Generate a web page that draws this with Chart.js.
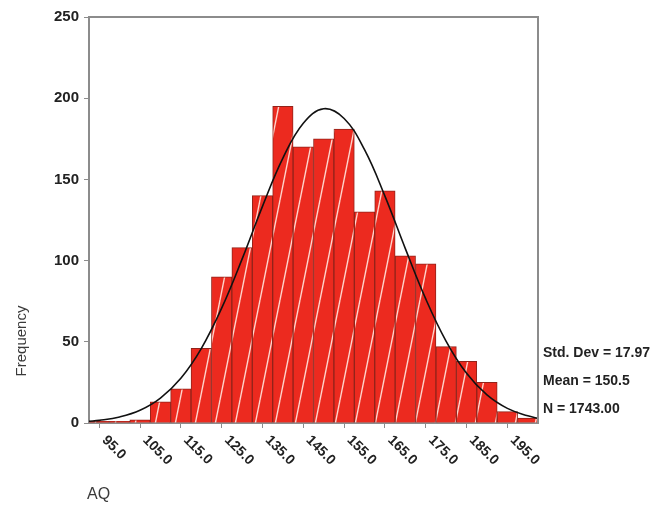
<!DOCTYPE html>
<html><head><meta charset="utf-8">
<script src="https://cdn.jsdelivr.net/npm/chart.js@4.4.1/dist/chart.umd.min.js"></script>
<style>html,body{margin:0;padding:0;background:#fff;}</style>
</head><body>
<canvas id="c" width="670" height="526"></canvas>
<script>
// Histogram bins (bin centres, width 5) and frequencies
const binCenters = [95,100,105,110,115,120,125,130,135,140,145,150,155,160,165,170,175,180,185,190,195,200];
const frequencies = [1,1,2,13,21,46,90,108,140,195,170,175,181,130,143,103,98,47,38,25,7,3];
// Fitted normal curve
const curveX = [92.5,95,100,105,110,115,120,125,130,135,140,145,150,155,160,165,170,175,180,185,190,195,200,202.5];
const curveY = [1.1,1.6,3.7,7.8,15.3,27.5,45.8,70.7,100.9,133.4,163.1,184.6,193.5,187.5,168.3,139.7,107.4,76.4,50.3,30.6,17.3,9.0,4.4,2.9];
// Axis ticks
const xTickValues = [95,105,115,125,135,145,155,165,175,185,195];
const xTickLabels = ["95.0","105.0","115.0","125.0","135.0","145.0","155.0","165.0","175.0","185.0","195.0"];
const yTickValues = [0,50,100,150,200,250];
const statsLines = ["Std. Dev = 17.97","Mean = 150.5","N = 1743.00"];
const xTitle = "AQ";
const yTitle = "Frequency";

const FONT = '"Liberation Sans", Arial, sans-serif';
const canvas = document.getElementById('c');
const ctx = canvas.getContext('2d');

// hatch pattern: red fill with thin pale steep diagonal lines
const pc = document.createElement('canvas'); pc.width = 20; pc.height = 100;
const p = pc.getContext('2d');
p.fillStyle = '#ec2a1f'; p.fillRect(0,0,20,100);
p.strokeStyle = 'rgba(255,222,214,0.95)'; p.lineWidth = 1.4;
for (const off of [-20,0,20]) { p.beginPath(); p.moveTo(off,100); p.lineTo(off+20,0); p.stroke(); }
const pattern = ctx.createPattern(pc,'repeat');

const decor = {
  id: 'decor',
  afterDraw(chart) {
    const c = chart.ctx, a = chart.chartArea, x = chart.scales.x;
    c.save();
    c.strokeStyle = '#8c8c8c'; c.lineWidth = 2;
    c.beginPath(); c.moveTo(a.left, a.top); c.lineTo(a.right, a.top); c.lineTo(a.right, a.bottom); c.stroke();
    c.fillStyle = '#222';
    c.font = 'bold 14px ' + FONT;
    xTickValues.forEach((v,i) => {
      const px = x.getPixelForValue(v);
      c.save(); c.translate(px + 5, a.bottom + 15); c.rotate(Math.PI/4);
      c.textAlign = 'left'; c.textBaseline = 'middle';
      c.fillText(xTickLabels[i], 0, 0);
      c.restore();
    });
    // y title
    c.fillStyle = '#3a3a3a';
    c.font = '15px ' + FONT;
    c.save(); c.translate(22, 341); c.rotate(-Math.PI/2);
    c.textAlign = 'center'; c.textBaseline = 'middle'; c.fillText(yTitle, 0, 0); c.restore();
    // x title
    c.font = '16px ' + FONT; c.textAlign = 'left'; c.textBaseline = 'middle';
    c.fillText(xTitle, 87, 495);
    // stats
    c.fillStyle = '#222';
    c.font = 'bold 14px ' + FONT;
    const ys = [353, 381, 409];
    statsLines.forEach((t,i) => c.fillText(t, 543, ys[i]));
    c.restore();
  }
};

new Chart(ctx, {
  type: 'bar',
  data: {
    datasets: [
      { type: 'line', data: curveX.map((v,i) => ({x: v, y: curveY[i]})),
        borderColor: '#111', borderWidth: 1.6, pointRadius: 0, tension: 0.4, fill: false, order: 0 },
      { type: 'bar', data: binCenters.map((v,i) => ({x: v, y: frequencies[i]})),
        backgroundColor: pattern, borderColor: '#92231a', borderWidth: 1,
        barPercentage: 1, categoryPercentage: 1, order: 1 }
    ]
  },
  options: {
    responsive: false, animation: false, devicePixelRatio: 1,
    layout: { padding: { left: 0, top: 17, right: 132, bottom: 0 } },
    plugins: { legend: { display: false }, tooltip: { enabled: false } },
    scales: {
      x: {
        type: 'linear', min: 92.5, max: 202.5, offset: false,
        afterBuildTicks: s => { s.ticks = xTickValues.map(v => ({ value: v })); },
        afterFit: s => { s.height = 103; },
        ticks: { display: false },
        grid: { drawOnChartArea: false, drawTicks: true, tickLength: 5, color: '#8c8c8c', offset: false },
        border: { color: '#8c8c8c', width: 2 }
      },
      y: {
        min: 0, max: 250,
        afterBuildTicks: s => { s.ticks = yTickValues.map(v => ({ value: v })); },
        afterFit: s => { s.width = 89; },
        ticks: { color: '#222', padding: 5, font: { family: FONT, size: 15, weight: 'bold' } },
        grid: { drawOnChartArea: false, drawTicks: true, tickLength: 5, color: '#8c8c8c' },
        border: { color: '#8c8c8c', width: 2 }
      }
    }
  },
  plugins: [decor]
});
</script>
</body></html>
